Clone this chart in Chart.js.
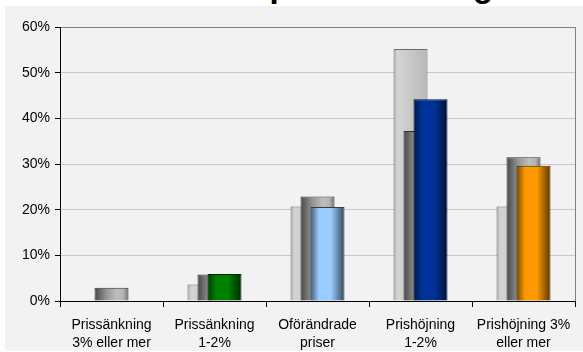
<!DOCTYPE html>
<html>
<head>
<meta charset="utf-8">
<script src="https://cdn.jsdelivr.net/npm/chart.js@4.4.0/dist/chart.umd.min.js"></script>
<style>
    body { margin: 0; background: #fff; width: 583px; height: 352px; overflow: hidden; position: relative; }
    #title { position: absolute; left: 0; width: 594px; top: -33px; line-height: 33px; font: bold 33px 'Liberation Sans', Arial, sans-serif; text-align: center; color: #000; white-space: nowrap; }
    #panel { position: absolute; left: 5px; top: 6px; width: 578px; height: 345px; background: #f2f2f2; }
</style>
</head>
<body>
<div id="panel"><canvas id="chart" width="578" height="345"></canvas></div>
<div id="title">Förväntad prisutveckling</div>
<script>
const categories = [
    ['Prissänkning', '3% eller mer'],
    ['Prissänkning', '1-2%'],
    ['Oförändrade', 'priser'],
    ['Prishöjning', '1-2%'],
    ['Prishöjning 3%', 'eller mer']
];
// three overlapping series, back to front
const serieA = [0, 3.6, 20.7, 55.2, 20.7];
const serieB = [2.9, 5.8, 22.9, 37.2, 31.5];
const serieC = [0, 5.9, 20.6, 44.2, 29.6];
const yTicks = [0, 10, 20, 30, 40, 50, 60];
const colorsC = ['#008000', '#008000', '#99ccff', '#003399', '#ff9900'];

const FONT = "'Liberation Sans', Arial, sans-serif";

function shade(hex, f) {
    let n = parseInt(hex.slice(1), 16);
    let r = Math.min(255, Math.round((n >> 16) * f));
    let g = Math.min(255, Math.round(((n >> 8) & 255) * f));
    let b = Math.min(255, Math.round((n & 255) * f));
    return 'rgb(' + r + ',' + g + ',' + b + ')';
}

// horizontal shading of each bar: [stop, brightness]
const profiles = [
    [[0, 0.85], [0.12, 1.04], [0.5, 0.98], [1, 0.9]],
    [[0, 0.4], [0.35, 0.82], [0.65, 1.05], [0.85, 1.0], [1, 0.6]],
    [[0, 0.45], [0.25, 1.0], [0.6, 1.0], [1, 0.35]]
];

/* gradients + draw order (first dataset at the back) */
const barLook = {
    id: 'barLook',
    beforeDatasetsDraw(chart) {
        const ctx = chart.ctx;
        const metas = chart.getSortedVisibleDatasetMetas();
        metas.forEach(function (meta) {
            const ds = chart.data.datasets[meta.index];
            meta.data.forEach(function (bar, i) {
                const base = ds.baseColors[i];
                const g = ctx.createLinearGradient(bar.x - bar.width / 2, 0, bar.x + bar.width / 2, 0);
                profiles[meta.index].forEach(function (p) {
                    g.addColorStop(p[0], shade(base, p[1]));
                });
                bar.options = Object.assign({}, bar.options, { backgroundColor: g });
            });
        });
        metas.forEach(function (meta) {
            meta.controller.draw();
        });
        return false;
    },
    afterDraw(chart) {
        const a = chart.chartArea;
        const ctx = chart.ctx;
        ctx.save();
        ctx.strokeStyle = '#808080';
        ctx.lineWidth = 1;
        ctx.beginPath();
        ctx.moveTo(Math.round(a.right) + 0.5, a.top);
        ctx.lineTo(Math.round(a.right) + 0.5, a.bottom);
        ctx.stroke();
        ctx.restore();
    }
};

new Chart(document.getElementById('chart'), {
    type: 'bar',
    data: {
        labels: categories,
        datasets: [{
            label: 'A',
            data: serieA,
            baseColors: serieA.map(() => '#cccccc'),
            borderColor: '#6a6a6a',
            borderWidth: 1
        }, {
            label: 'B',
            data: serieB,
            baseColors: serieB.map(() => '#b4b4b4'),
            borderColor: '#303030',
            borderWidth: 1
        }, {
            label: 'C',
            data: serieC,
            baseColors: colorsC,
            borderColor: colorsC.map(c => shade(c, 0.3)),
            borderWidth: 1
        }]
    },
    options: {
        responsive: false,
        animation: false,
        categoryPercentage: 0.2913,
        barPercentage: 3.4,
        layout: { padding: { top: 21, right: 8, left: 0, bottom: 0 } },
        plugins: {
            legend: { display: false },
            tooltip: { enabled: false }
        },
        scales: {
            x: {
                grid: { offset: true, drawOnChartArea: false, tickLength: 6, color: '#000', tickColor: '#000' },
                border: { color: '#000', width: 1 },
                ticks: { color: '#000', font: { family: FONT, size: 14, lineHeight: 1.3 }, padding: 9, maxRotation: 0, autoSkip: false },
                afterFit: function (s) { s.height = 50; }
            },
            y: {
                min: 0,
                max: 60,
                afterBuildTicks: function (s) { s.ticks = yTicks.map(v => ({ value: v })); },
                ticks: { color: '#000', font: { family: FONT, size: 14 }, padding: 5, callback: v => v + '%' },
                grid: {
                    color: c => (c.tick && c.tick.value === 60) ? '#808080' : '#c8c8c8',
                    tickColor: '#000',
                    tickLength: 5
                },
                border: { color: '#000', width: 1 },
                afterFit: function (s) { s.width = 55; }
            }
        }
    },
    plugins: [barLook]
});
</script>
</body>
</html>
